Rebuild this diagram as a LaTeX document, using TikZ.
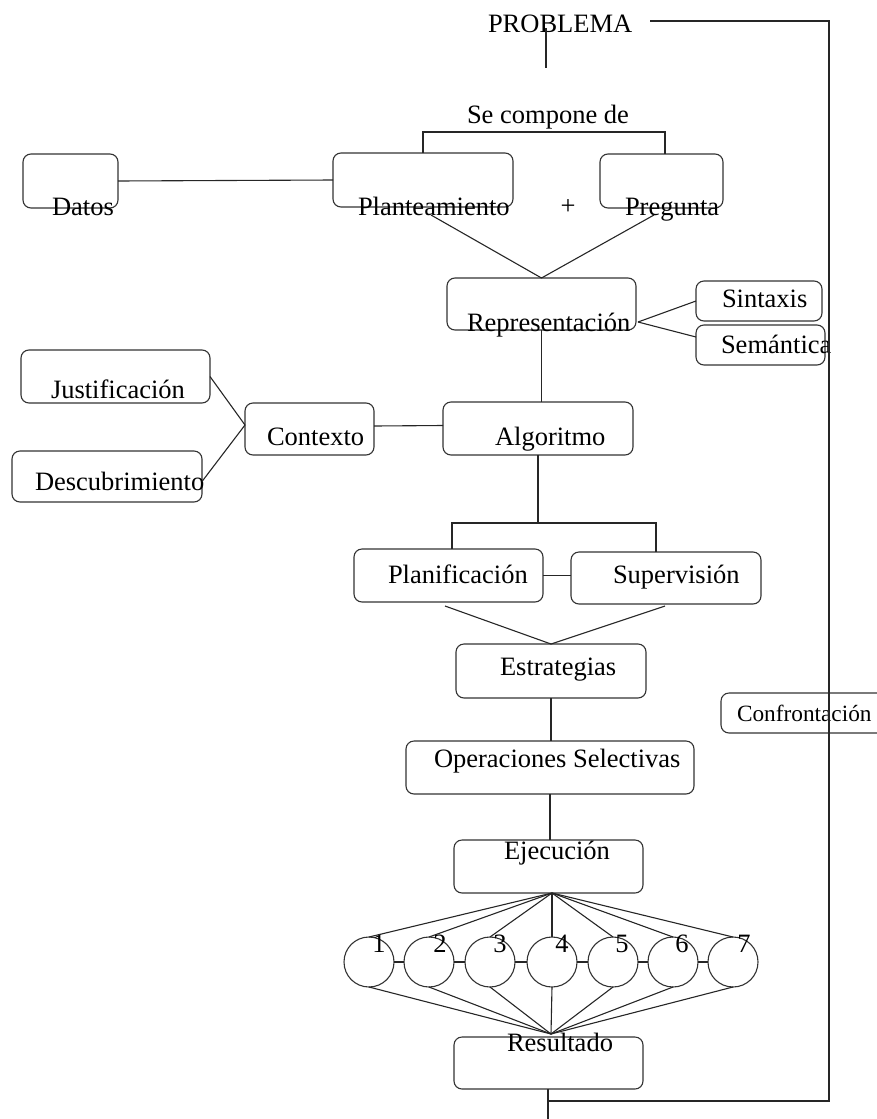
\documentclass[tikz,border=0pt]{standalone}
\usepackage{fontspec}
\setmainfont{Liberation Serif}
\begin{document}
\begin{tikzpicture}[x=1pt,y=-1pt,
  box/.style={draw=black!80, line width=1.1pt, rounded corners=8pt, inner sep=0pt, outer sep=0pt},
  circ/.style={circle, draw=black!80, line width=1.1pt, minimum size=50pt, inner sep=0pt, outer sep=0pt},
  txt/.style={anchor=base west, inner sep=0pt, outer sep=0pt, font=\fontsize{26.5}{30}\selectfont},
  con/.style={draw=black!85, line width=1.1pt}]
\useasboundingbox (0,0) rectangle (877,1119);

% boxes
\node[box, minimum width=95pt, minimum height=54pt] (datos) at (70.5,181) {};
\node[box, minimum width=180pt, minimum height=54pt] (plant) at (423,180) {};
\node[box, minimum width=123pt, minimum height=54pt] (preg) at (661.5,181) {};
\node[box, minimum width=189pt, minimum height=52pt] (repr) at (541.5,304) {};
\node[box, minimum width=126pt, minimum height=40pt] (sint) at (759,301) {};
\node[box, minimum width=129pt, minimum height=40pt] (sem) at (760.5,345) {};
\node[box, minimum width=189pt, minimum height=53pt] (just) at (115.5,376.5) {};
\node[box, minimum width=190pt, minimum height=51pt] (desc) at (107,476.5) {};
\node[box, minimum width=129pt, minimum height=52pt] (ctx) at (309.5,429) {};
\node[box, minimum width=190pt, minimum height=53pt] (alg) at (538,428.5) {};
\node[box, minimum width=189pt, minimum height=53pt] (plan) at (448.5,575.5) {};
\node[box, minimum width=190pt, minimum height=52pt] (sup) at (666,578) {};
\node[box, minimum width=190pt, minimum height=54pt] (estr) at (551,671) {};
\node[box, minimum width=288pt, minimum height=53pt] (oper) at (550,767.5) {};
\node[box, minimum width=180pt, minimum height=40pt] (conf) at (811,713) {};
\node[box, minimum width=189pt, minimum height=53pt] (ejec) at (548.5,866.5) {};
\node[box, minimum width=189pt, minimum height=52pt] (res) at (548.5,1063) {};

% circles
\foreach \i/\x in {1/369,2/429,3/490,4/552,5/613,6/673,7/733}{
  \node[circ] (c\i) at (\x,962) {};
}

% texts
\node[txt] (probT) at (488,32) {PROBLEMA};
\node[txt] (secT) at (467,123) {Se compone de};
\node[txt] (datosT) at (52,215) {Datos};
\node[txt] (plantT) at (358,215) {Planteamiento};
\node[txt, anchor=center] (plusT) at (568,207) {+};
\node[txt] (pregT) at (625,215) {Pregunta};
\node[txt] (reprT) at (467,331) {Representación};
\node[txt] (sintT) at (722,307) {Sintaxis};
\node[txt] (semT) at (721,353) {Semántica};
\node[txt] (justT) at (51,398) {Justificación};
\node[txt] (descT) at (35,490) {Descubrimiento};
\node[txt] (ctxT) at (267,445) {Contexto};
\node[txt] (algT) at (495,445) {Algoritmo};
\node[txt] (planT) at (388,583) {Planificación};
\node[txt] (supT) at (613,583) {Supervisión};
\node[txt] (estrT) at (500,675) {Estrategias};
\node[txt] (operT) at (434,767) {Operaciones Selectivas};
\node[txt, font=\fontsize{23.3}{27}\selectfont] (confT) at (737,721) {Confrontación};
\node[txt] (ejecT) at (504,859) {Ejecución};
\node[txt] (resT) at (507,1051) {Resultado};
\foreach \i/\x in {1/379,2/440,3/500,4/562,5/622,6/682,7/744}{
  \node[txt, anchor=base] (n\i) at (\x,952) {\i};
}

% coordinates
\coordinate (stubtop) at (546,28);
\coordinate (stubbot) at (546,68);
\coordinate (topL) at (650,21);
\coordinate (topR) at (829,21);
\coordinate (botR) at (829,1101);
\coordinate (botL) at (548,1101);
\coordinate (botEnd) at (548,1119);
\coordinate (brk1) at (423,132);
\coordinate (brk1r) at (665,132);
\coordinate (plantfoot) at (431,215);
\coordinate (pregfoot) at (654,215);
\coordinate (reprR) at (638,322);
\coordinate (b2l) at (452,523);
\coordinate (b2r) at (656,523);
\coordinate (planfoot) at (445,606);
\coordinate (supfoot) at (665,606);
\coordinate (ejapex) at (552,893);
\coordinate (resapex) at (551,1034);

% connectors
\draw[con] (stubtop) -- (stubbot);
\draw[con] (topL) -- (topR) -- (botR) -- (botL);
\draw[con] (res.south -| botL) -- (botEnd);
\draw[con] (plant.north) -- (brk1) -- (brk1r) -- (brk1r |- preg.north);
\draw[con] (datos.east) -- (plant.west);
\draw[con] (plantfoot) -- (repr.north) -- (pregfoot);
\draw[con] (reprR) -- (sint.west);
\draw[con] (reprR) -- ([yshift=8pt]sem.west);
\draw[con] (repr.south) -- (repr.south |- alg.north);
\draw[con] (just.east) -- ([yshift=4pt]ctx.west);
\draw[con] ([yshift=-5pt]desc.east) -- ([yshift=4pt]ctx.west);
\draw[con] ([yshift=3pt]ctx.east) -- ([yshift=3pt]alg.west);
\draw[con] (alg.south) -- (alg.south |- b2l);
\draw[con] (b2l |- plan.north) -- (b2l) -- (b2r) -- (b2r |- sup.north);
\draw[con] (plan.east) -- (sup.west |- plan.east);
\draw[con] (planfoot) -- (estr.north) -- (supfoot);
\draw[con] (estr.south) -- (estr.south |- oper.north);
\draw[con] (oper.south) -- (oper.south |- ejec.north);
\foreach \i in {1,...,7}{
  \draw[con] (ejapex) -- (c\i.north);
  \draw[con] (c\i.south) -- (resapex);
}
\foreach \i/\j in {1/2,2/3,3/4,4/5,5/6,6/7}{
  \draw[con] (c\i.east) -- (c\j.west);
}
\end{tikzpicture}
\end{document}
